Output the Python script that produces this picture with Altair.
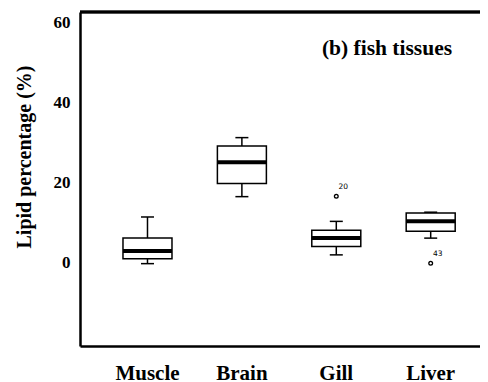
import altair as alt
import pandas as pd

categories = ["Muscle", "Brain", "Gill", "Liver"]
whisker_low = [-0.4, 16.4, 1.8, 6.0]
quartile1 = [0.8, 19.7, 3.9, 7.7]
medians = [2.8, 25.0, 6.0, 10.2]
quartile3 = [6.0, 29.1, 8.0, 12.3]
whisker_high = [11.3, 31.2, 10.2, 12.5]

outlier_cats = ["Gill", "Liver"]
outlier_vals = [16.5, -0.3]
outlier_ids = ["20", "43"]

y_ticks = [0, 20, 40, 60]

box_df = pd.DataFrame({
    "tissue": categories,
    "lo": whisker_low,
    "q1": quartile1,
    "med": medians,
    "q3": quartile3,
    "hi": whisker_high,
})
out_df = pd.DataFrame({"tissue": outlier_cats, "val": outlier_vals, "id": outlier_ids})

SERIF = "Liberation Serif"
W, H = 400, 334

xscale = alt.Scale(domain=categories, paddingInner=0, paddingOuter=0.1186, align=0.906)
yscale = alt.Scale(domain=[-21.05, 62.7], nice=False, zero=False)

x_enc = alt.X("tissue:N", scale=xscale, sort=categories, axis=alt.Axis(
    title=None, labelAngle=0, ticks=False, domain=True, domainColor="black",
    domainWidth=2.5, labelFont=SERIF, labelFontWeight="bold", labelFontSize=21,
    labelColor="black", labelPadding=16, labelBaseline="top"))
y_axis = alt.Axis(
    title="Lipid percentage (%)", values=y_ticks, ticks=False, grid=False,
    domain=True, domainColor="black", domainWidth=2.5,
    labelFont=SERIF, labelFontWeight="bold", labelFontSize=17, labelColor="black",
    labelPadding=10, titleFont=SERIF, titleFontWeight="bold", titleFontSize=20,
    titleColor="black", titleAngle=-90, titleAlign="center", titleBaseline="middle",
    titleX=-56, titleY=144.5)

base = alt.Chart(box_df)

whisk = base.mark_rule(color="black", strokeWidth=1.5).encode(
    x=x_enc,
    y=alt.Y("lo:Q", scale=yscale, axis=y_axis),
    y2="hi:Q",
)
caps_lo = base.mark_tick(color="black", size=13, thickness=1.5, opacity=1).encode(
    x=alt.X("tissue:N", scale=xscale, sort=categories), y=alt.Y("lo:Q", scale=yscale))
caps_hi = base.mark_tick(color="black", size=13, thickness=1.5, opacity=1).encode(
    x=alt.X("tissue:N", scale=xscale, sort=categories), y=alt.Y("hi:Q", scale=yscale))
box = base.mark_bar(size=49, fill="white", stroke="black", strokeWidth=1.5).encode(
    x=alt.X("tissue:N", scale=xscale, sort=categories),
    y=alt.Y("q1:Q", scale=yscale), y2="q3:Q")
med = base.mark_tick(color="black", size=49, thickness=4, opacity=1).encode(
    x=alt.X("tissue:N", scale=xscale, sort=categories), y=alt.Y("med:Q", scale=yscale))

outl = alt.Chart(out_df).mark_point(shape="circle", filled=False, color="black",
                                   size=14, strokeWidth=1.3, opacity=1).encode(
    x=alt.X("tissue:N", scale=xscale, sort=categories), y=alt.Y("val:Q", scale=yscale))
outl_lab = alt.Chart(out_df).mark_text(font="DejaVu Sans", fontSize=7.5, color="black",
                                      dx=7, dy=-9).encode(
    x=alt.X("tissue:N", scale=xscale, sort=categories), y=alt.Y("val:Q", scale=yscale),
    text="id:N")

top_rule = alt.Chart(box_df).mark_rule(color="black", strokeWidth=2.5).encode(
    x=alt.value(0), x2=alt.value(W), y=alt.value(0))

panel_title = alt.Chart(pd.DataFrame({"t": ["(b) fish tissues"]})).mark_text(
    font=SERIF, fontWeight="bold", fontSize=21.5, color="black", align="center",
    baseline="middle").encode(x=alt.value(307), y=alt.value(37), text="t:N")

chart = alt.layer(whisk, caps_lo, caps_hi, box, med, outl, outl_lab, top_rule, panel_title).properties(
    width=W, height=H,
    autosize=alt.AutoSizeParams(type="none"),
    padding={"left": 72, "top": 4, "right": 0, "bottom": 36},
).configure_view(stroke=None).configure(background="white")

chart.save("out.html", embed_options={"renderer": "svg", "actions": False})
